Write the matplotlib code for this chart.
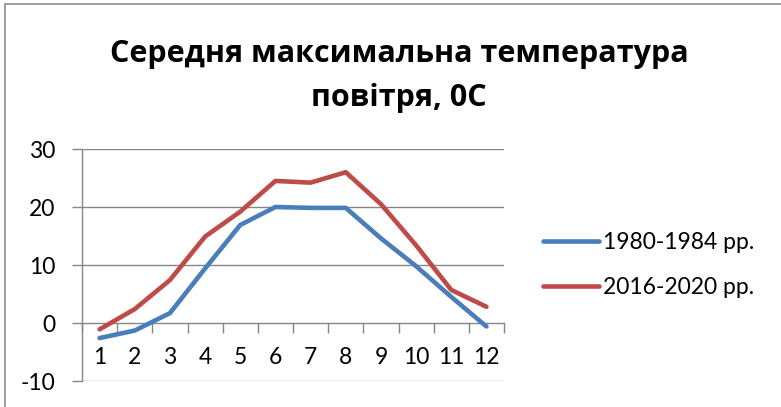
import matplotlib.pyplot as plt
from matplotlib.patches import Rectangle

# average maximum air temperature by month
months = list(range(1, 13))
t_1980_1984 = [-2.6, -1.3, 1.7, 9.4, 16.9, 20.0, 19.85, 19.85, 14.6, 9.8, 4.5, -0.6]
t_2016_2020 = [-1.1, 2.4, 7.4, 14.9, 19.2, 24.5, 24.2, 26.0, 20.5, 13.4, 5.7, 2.8]
labels = ['1980-1984 рр.', '2016-2020 рр.']
title = 'Середня максимальна температура\nповітря, 0С'

plt.rcParams['font.family'] = ['Lato', 'Open Sans', 'DejaVu Sans']
plt.rcParams['axes.unicode_minus'] = False

W, H = 781, 407
fig = plt.figure(figsize=(W / 100, H / 100), dpi=100)

# chart area frame
fig.patches.append(Rectangle((4.5 / W, -0.1), 1.0, 1.1 - 4.5 / H, transform=fig.transFigure,
                             fill=False, edgecolor='#8c8c8c', linewidth=1.2))

ax = fig.add_axes([82 / W, 1 - 381 / H, (504 - 82) / W, (381 - 149) / H])

grid_c = '#868686'
ax.plot(months, t_1980_1984, color='#4A7EBB', lw=3.3, label=labels[0], solid_capstyle='round', zorder=3)
ax.plot(months, t_2016_2020, color='#BE4B48', lw=3.3, label=labels[1], solid_capstyle='round', zorder=3)

ax.set_xlim(0.5, 12.5)
ax.set_ylim(-10, 30)
ax.set_yticks([-10, 0, 10, 20, 30])
for y in [-10, 10, 20, 30]:
    ax.axhline(y, color=grid_c, lw=1.0, zorder=1)

for s in ['top', 'right']:
    ax.spines[s].set_visible(False)
ax.spines['left'].set_color(grid_c)
ax.spines['bottom'].set_color(grid_c)
ax.spines['bottom'].set_position(('data', 0))
ax.spines['left'].set_linewidth(1.0)
ax.spines['bottom'].set_linewidth(1.0)

ax.set_xticks([m + 0.5 for m in range(0, 13)])
ax.set_xticklabels([])
ax.set_xticks(months, minor=True)
ax.set_xticklabels([str(m) for m in months], minor=True)
ax.tick_params(axis='x', which='major', length=7, width=1.0, color=grid_c, direction='out')
ax.tick_params(axis='x', which='minor', length=0, pad=17, labelsize=16.5)
ax.tick_params(axis='y', length=7, width=1.0, color=grid_c, labelsize=16.5, pad=12)

fig.text(399 / W, 1 - 76 / H, title, ha='center', va='center', fontsize=22,
         fontweight='bold', family=['Open Sans', 'DejaVu Sans'], linespacing=1.6)

fig.legend(loc='center left', bbox_to_anchor=(543 / W, 1 - 265 / H), frameon=False,
           borderaxespad=0, borderpad=0, fontsize=16.5, handlelength=2.45,
           handletextpad=0.17, labelspacing=1.05)

fig.savefig('out.png', dpi=100)
